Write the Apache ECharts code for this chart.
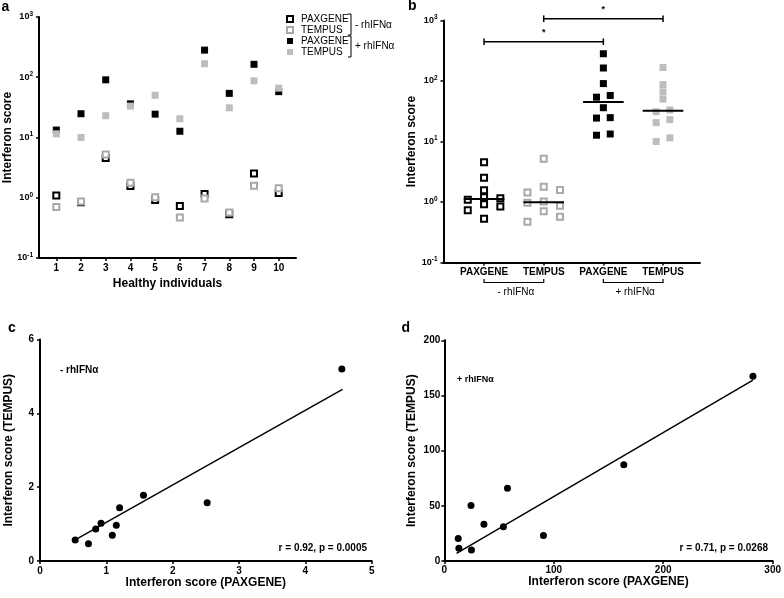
<!DOCTYPE html>
<html><head><meta charset="utf-8">
<script src="https://cdn.jsdelivr.net/npm/echarts@6/dist/echarts.min.js"></script>
<style>html,body{margin:0;padding:0;background:#fff}#c{width:784px;height:598px}</style>
</head><body><div id="c"></div>
<script>
// ---------- data ----------
const individuals = [1, 2, 3, 4, 5, 6, 7, 8, 9, 10];
const paxMinus    = [1.09, 0.84, 4.55, 1.56, 0.92, 0.73, 1.15, 0.53, 2.52, 1.20];
const tempusMinus = [0.70, 0.87, 5.20, 1.78, 1.02, 0.47, 0.97, 0.57, 1.58, 1.44];
const paxPlus     = [13.3, 24.8, 90.6, 36.2, 24.4, 12.7, 282, 54.0, 164, 57.7];
const tempusPlus  = [11.5, 10.0, 23.0, 33.2, 50.2, 20.5, 167.4, 31.1, 87.3, 66.0];
// column (left/centre/right) of each point in the scatter of panel b
const colPaxMinus    = [-1, 1, 0, 0, 0, -1, 1, 0, 0, 0];
const colTempusMinus = [0, 1, 0, 0, 0, -1, -1, 1, 1, -1];
const colPaxPlus     = [1, 1, 0, 0, -1, -1, 0, -1, 0, 1];
const colTempusPlus  = [1, -1, 1, 1, 0, -1, 0, -1, 0, 0];
const groupNames = ['PAXGENE', 'TEMPUS', 'PAXGENE', 'TEMPUS'];
const groupPos = [1, 2, 3, 4];
const logTicks = [0.1, 1, 10, 100, 1000];
const fitC = [[0.55, 0.59], [4.56, 4.65]];
const fitD = [[11.2, 7], [282, 164]];
const statC = 'r = 0.92, p = 0.0005';
const statD = 'r = 0.71, p = 0.0268';

// ---------- helpers ----------
const FONT = '"Liberation Sans", Arial, sans-serif';
const BLACK = '#000', GRAY_O = '#a8a8a8', GRAY_F = '#bdbdbd';
function median(a) { const s = a.slice().sort((x, y) => x - y); const n = s.length; return n % 2 ? s[(n - 1) / 2] : (s[n / 2 - 1] + s[n / 2]) / 2; }
const axisLine = { show: true, lineStyle: { color: BLACK, width: 2 } };
const axisTick = { show: true, length: 3, lineStyle: { color: BLACK, width: 1.5 } };
const nameStyle = { fontSize: 12, fontWeight: 'bold', fontFamily: FONT, color: BLACK };
const tickLab = (extra) => Object.assign({ fontSize: 10, fontWeight: 'bold', fontFamily: FONT, color: BLACK }, extra || {});
const logLabel = {
  fontFamily: FONT, color: BLACK, margin: 6, customValues: logTicks,
  formatter: v => '{b|10}{s|' + Math.round(Math.log10(v)) + '}',
  rich: {
    b: { fontSize: 9, fontWeight: 'bold', fontFamily: FONT, color: BLACK },
    s: { fontSize: 6.5, fontWeight: 'bold', fontFamily: FONT, color: BLACK, verticalAlign: 'bottom', padding: [0, 0, 6, 0] }
  }
};
const openStyle = c => ({ color: '#fff', borderColor: c, borderWidth: 2, opacity: 1 });
const fillStyle = c => ({ color: c, opacity: 1 });
const jitterOpen = 0.273, jitterFilled = 0.115, halfMed = 0.34;
const bPoints = (vals, cols, g, j) => vals.map((v, i) => [groupPos[g] + cols[i] * j, v]);
const medLine = (vals, g) => { const m = median(vals); return [[groupPos[g] - halfMed, m], [groupPos[g] + halfMed, m]]; };

const chart = echarts.init(document.getElementById('c'), null, { renderer: 'canvas' });

const option = {
  animation: false,
  backgroundColor: '#fff',
  grid: [
    { left: 39, top: 17, width: 257, height: 241 },
    { left: 443.5, top: 20.5, width: 256.5, height: 242 },
    { left: 40, top: 339.5, width: 331.7, height: 221.5 },
    { left: 444.3, top: 340.3, width: 331.4, height: 220.7 }
  ],
  legend: {
    data: ['PAXGENE-', 'TEMPUS-', 'PAXGENE+', 'TEMPUS+'],
    orient: 'vertical', left: 286, top: 13.5, padding: 0,
    itemWidth: 6, itemHeight: 6, itemGap: 0, selectedMode: false,
    formatter: n => n.slice(0, -1),
    textStyle: { fontSize: 10, fontFamily: FONT, color: BLACK, lineHeight: 11, padding: [0, 0, 0, 3] }
  },
  xAxis: [
    { gridIndex: 0, type: 'value', min: 0.3, max: 10.7, splitLine: { show: false }, axisLine, axisTick: Object.assign({ customValues: individuals }, axisTick),
      axisLabel: tickLab({ margin: 5, customValues: individuals }),
      name: 'Healthy individuals', nameLocation: 'middle', nameGap: 20, nameTextStyle: nameStyle },
    { gridIndex: 1, type: 'value', min: 0.32, max: 4.62, splitLine: { show: false }, axisLine, axisTick: Object.assign({ customValues: groupPos }, axisTick),
      axisLabel: tickLab({ margin: 5, customValues: groupPos, formatter: v => groupNames[Math.round(v) - 1] }) },
    { gridIndex: 2, type: 'value', min: 0, max: 5, interval: 1, splitLine: { show: false }, axisLine, axisTick,
      axisLabel: tickLab({ margin: 5 }),
      name: 'Interferon score (PAXGENE)', nameLocation: 'middle', nameGap: 16, nameTextStyle: nameStyle },
    { gridIndex: 3, type: 'value', min: 0, max: 300, interval: 100, splitLine: { show: false }, axisLine, axisTick,
      axisLabel: tickLab({ margin: 4 }),
      name: 'Interferon score (PAXGENE)', nameLocation: 'middle', nameGap: 11, nameTextStyle: nameStyle }
  ],
  yAxis: [
    { gridIndex: 0, type: 'log', logBase: 10, min: 0.1, max: 1000, splitLine: { show: false }, axisLine,
      axisTick: Object.assign({ customValues: logTicks }, axisTick), axisLabel: logLabel, minorTick: { show: false },
      name: 'Interferon score', nameLocation: 'middle', nameGap: 25, nameTextStyle: nameStyle },
    { gridIndex: 1, type: 'log', logBase: 10, min: 0.1, max: 1000, splitLine: { show: false }, axisLine,
      axisTick: Object.assign({ customValues: logTicks }, axisTick), axisLabel: logLabel, minorTick: { show: false },
      name: 'Interferon score', nameLocation: 'middle', nameGap: 22, nameTextStyle: nameStyle },
    { gridIndex: 2, type: 'value', min: 0, max: 6, interval: 2, splitLine: { show: false }, axisLine, axisTick,
      axisLabel: tickLab({ margin: 6 }),
      name: 'Interferon score (TEMPUS)', nameLocation: 'middle', nameGap: 25, nameTextStyle: nameStyle },
    { gridIndex: 3, type: 'value', min: 0, max: 200, interval: 50, splitLine: { show: false }, axisLine, axisTick,
      axisLabel: tickLab({ margin: 4 }),
      name: 'Interferon score (TEMPUS)', nameLocation: 'middle', nameGap: 27, nameTextStyle: nameStyle }
  ],
  series: [
    // panel a
    { name: 'PAXGENE-', type: 'scatter', xAxisIndex: 0, yAxisIndex: 0, symbol: 'rect', symbolSize: 6,
      itemStyle: openStyle(BLACK), data: individuals.map((x, i) => [x, paxMinus[i]]) },
    { name: 'TEMPUS-', type: 'scatter', xAxisIndex: 0, yAxisIndex: 0, symbol: 'rect', symbolSize: 6,
      itemStyle: openStyle(GRAY_O), data: individuals.map((x, i) => [x, tempusMinus[i]]) },
    { name: 'PAXGENE+', type: 'scatter', xAxisIndex: 0, yAxisIndex: 0, symbol: 'rect', symbolSize: 7,
      itemStyle: fillStyle(BLACK), data: individuals.map((x, i) => [x, paxPlus[i]]) },
    { name: 'TEMPUS+', type: 'scatter', xAxisIndex: 0, yAxisIndex: 0, symbol: 'rect', symbolSize: 7,
      itemStyle: fillStyle(GRAY_F), data: individuals.map((x, i) => [x, tempusPlus[i]]) },
    // panel b
    { name: 'b1', type: 'scatter', xAxisIndex: 1, yAxisIndex: 1, symbol: 'rect', symbolSize: 6,
      itemStyle: openStyle(BLACK), data: bPoints(paxMinus, colPaxMinus, 0, jitterOpen) },
    { name: 'b2', type: 'scatter', xAxisIndex: 1, yAxisIndex: 1, symbol: 'rect', symbolSize: 6,
      itemStyle: openStyle(GRAY_O), data: bPoints(tempusMinus, colTempusMinus, 1, jitterOpen) },
    { name: 'b3', type: 'scatter', xAxisIndex: 1, yAxisIndex: 1, symbol: 'rect', symbolSize: 7,
      itemStyle: fillStyle(BLACK), data: bPoints(paxPlus, colPaxPlus, 2, jitterFilled) },
    { name: 'b4', type: 'scatter', xAxisIndex: 1, yAxisIndex: 1, symbol: 'rect', symbolSize: 7,
      itemStyle: fillStyle(GRAY_F), data: bPoints(tempusPlus, colTempusPlus, 3, jitterFilled) },
    ...[paxMinus, tempusMinus, paxPlus, tempusPlus].map((vals, g) => ({
      name: 'm' + g, type: 'line', xAxisIndex: 1, yAxisIndex: 1, symbol: 'none',
      lineStyle: { color: BLACK, width: 2 }, data: medLine(vals, g), z: 5 })),
    // panel c
    { name: 'c', type: 'scatter', xAxisIndex: 2, yAxisIndex: 2, symbol: 'circle', symbolSize: 7,
      itemStyle: fillStyle(BLACK), data: paxMinus.map((x, i) => [x, tempusMinus[i]]) },
    { name: 'cfit', type: 'line', xAxisIndex: 2, yAxisIndex: 2, symbol: 'none',
      lineStyle: { color: BLACK, width: 1.5 }, data: fitC },
    // panel d
    { name: 'd', type: 'scatter', xAxisIndex: 3, yAxisIndex: 3, symbol: 'circle', symbolSize: 7,
      itemStyle: fillStyle(BLACK), data: paxPlus.map((x, i) => [x, tempusPlus[i]]) },
    { name: 'dfit', type: 'line', xAxisIndex: 3, yAxisIndex: 3, symbol: 'none',
      lineStyle: { color: BLACK, width: 1.5 }, data: fitD }
  ]
};
chart.setOption(option);

// ---------- annotations ----------
const gx = v => chart.convertToPixel({ xAxisIndex: 1 }, v);
const txt = (x, y, text, size, weight, align) => ({ type: 'text', x, y, silent: true,
  style: { text, fontSize: size, fontWeight: weight || 'normal', fontFamily: FONT, fill: BLACK, align: align || 'left', verticalAlign: 'middle' } });
const poly = (pts, w) => ({ type: 'polyline', silent: true, shape: { points: pts }, style: { stroke: BLACK, fill: null, lineWidth: w || 1.2 } });
const g1 = gx(1), g2 = gx(2), g3 = gx(3), g4 = gx(4);
const sig = (xa, xb, y) => [
  poly([[xa, y], [xb, y]], 1.5),
  poly([[xa, y - 3.3], [xa, y + 3.3]], 1.5),
  poly([[xb, y - 3.3], [xb, y + 3.3]], 1.5)
];
const graphic = [
  txt(1.5, 7, 'a', 14, 'bold'), txt(408, 6.5, 'b', 14, 'bold'),
  txt(8, 328.5, 'c', 14, 'bold'), txt(401.5, 328.5, 'd', 14, 'bold'),
  // legend brackets (panel a)
  poly([[348, 14], [351, 14], [351, 35], [348, 35]], 1),
  poly([[348, 36], [351, 36], [351, 57], [348, 57]], 1),
  txt(355, 25, '- rhIFNα', 10), txt(355, 46.5, '+ rhIFNα', 10),
  // group brackets under panel b labels
  poly([[g1, 279], [g1, 282.5], [g2, 282.5], [g2, 279]], 1.2),
  poly([[g3, 279], [g3, 282.5], [g4, 282.5], [g4, 279]], 1.2),
  txt((g1 + g2) / 2 + 2, 292.5, '- rhIFNα', 10, 'normal', 'center'),
  txt((g3 + g4) / 2 + 2, 292.5, '+ rhIFNα', 10, 'normal', 'center'),
  // significance brackets
  ...sig(g2, g4, 18.7), ...sig(g1, g3, 41.7),
  txt((g2 + g4) / 2, 10, '*', 9, 'bold', 'center'),
  txt((g1 + g3) / 2, 33, '*', 9, 'bold', 'center'),
  // panel c & d annotations
  txt(60, 370, '- rhIFNα', 10, 'bold'),
  txt(457, 380, '+ rhIFNα', 9, 'bold'),
  txt(367, 548, statC, 10, 'bold', 'right'),
  txt(768, 548.3, statD, 10, 'bold', 'right')
];
chart.setOption({ graphic });
</script></body></html>
